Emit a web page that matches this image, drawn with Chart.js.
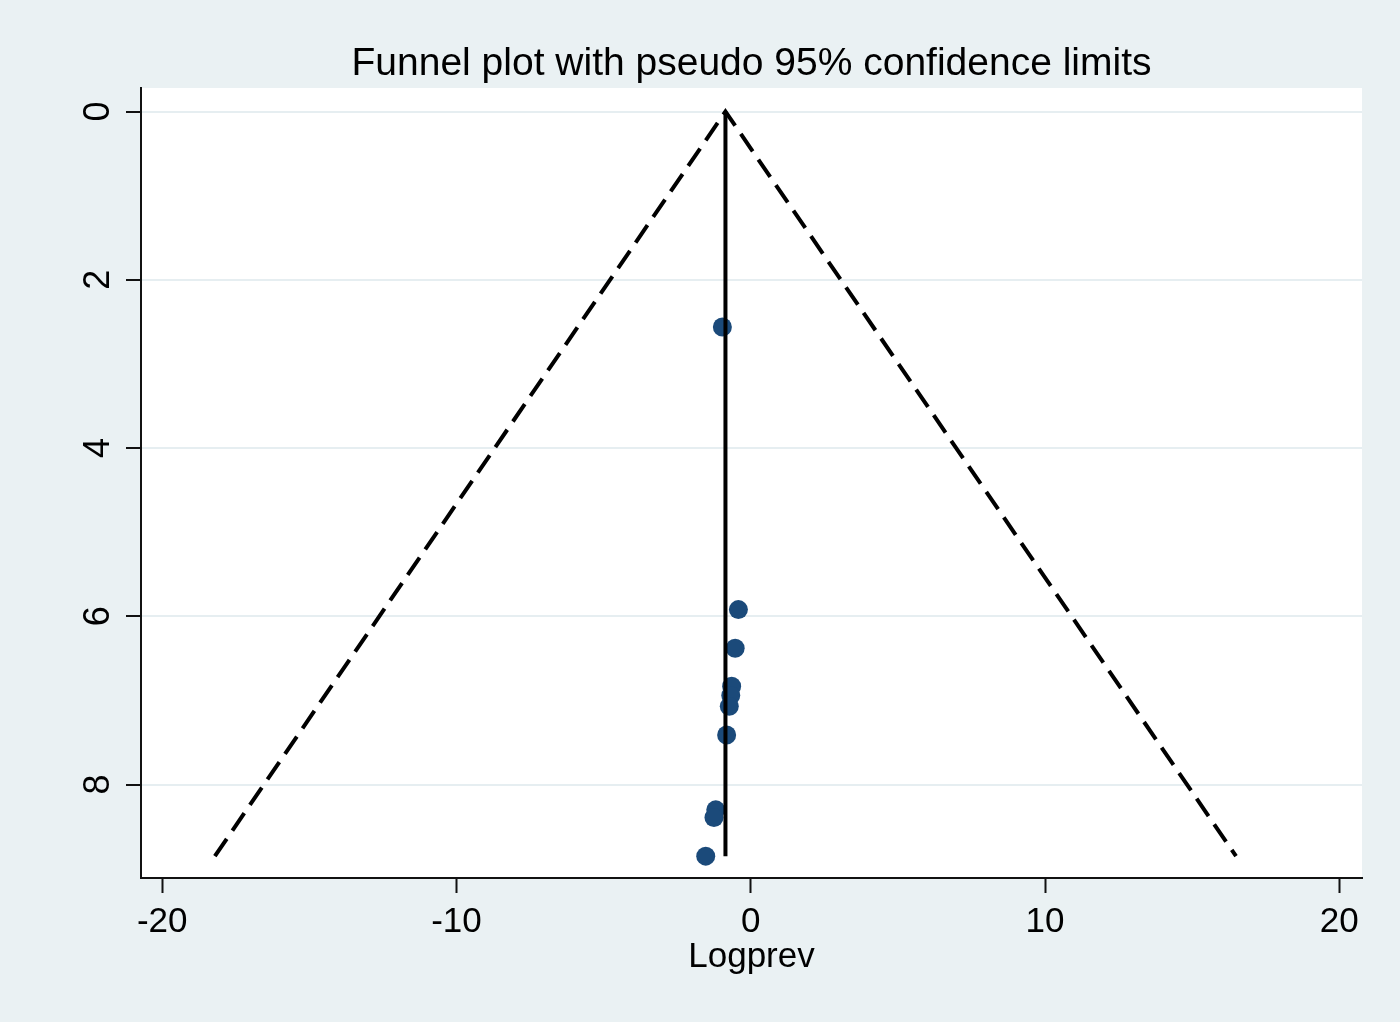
<!DOCTYPE html>
<html>
<head>
<meta charset="utf-8">
<title>Funnel plot</title>
<script src="https://cdn.jsdelivr.net/npm/chart.js@4.4.1/dist/chart.umd.min.js"></script>
<style>
  html, body { margin: 0; padding: 0; background: #eaf1f3; }
  canvas { display: block; }
</style>
</head>
<body>
<canvas id="funnel" width="1400" height="1022"></canvas>
<script>
// valores (Logprev x erro padrão)
const logprev = [-0.965, -0.42, -0.53, -0.65, -0.68, -0.73, -0.82, -1.19, -1.25, -1.53];
const stdErr  = [2.56, 5.92, 6.38, 6.83, 6.94, 7.07, 7.41, 8.30, 8.39, 8.85];

// estimativa combinada (linha vertical)
const pooledX = [-0.86, -0.86];
const pooledY = [0, 8.85];

// limites de 95% (linhas tracejadas)
const limitX = [-18.21, -0.86, 16.49];
const limitY = [8.85, 0, 8.85];

const xTicks = [-20, -10, 0, 10, 20];
const yTicks = [0, 2, 4, 6, 8];

const pair = (xs, ys) => xs.map((x, i) => ({ x: x, y: ys[i] }));

const font = 'Liberation Sans, Arial, sans-serif';
const bg = '#eaf1f3';

// fundo cinza-azulado e área do gráfico branca
const background = {
  id: 'background',
  beforeDraw(chart) {
    const { ctx, chartArea: a } = chart;
    ctx.save();
    ctx.fillStyle = bg;
    ctx.fillRect(0, 0, chart.width, chart.height);
    ctx.fillStyle = '#ffffff';
    ctx.fillRect(a.left, a.top, a.right - a.left, a.bottom - a.top);
    ctx.restore();
  }
};

new Chart(document.getElementById('funnel').getContext('2d'), {
  type: 'scatter',
  data: {
    datasets: [
      {
        label: 'pooled',
        data: pair(pooledX, pooledY),
        showLine: true,
        borderColor: '#000',
        borderWidth: 4,
        pointRadius: 0,
        tension: 0,
      },
      {
        label: 'limits',
        data: pair(limitX, limitY),
        showLine: true,
        borderColor: '#000',
        borderWidth: 4,
        borderDash: [21, 10],
        borderJoinStyle: 'miter',
        pointRadius: 0,
        tension: 0,
      },
      {
        label: 'studies',
        data: pair(logprev, stdErr),
        backgroundColor: '#1b4a7a',
        borderWidth: 0,
        pointRadius: 9.5,
      },
    ],
  },
  options: {
    responsive: false,
    animation: false,
    devicePixelRatio: 1,
    layout: { padding: { left: 0, right: 38, top: 0, bottom: 0 } },
    plugins: {
      legend: { display: false },
      tooltip: { enabled: false },
      title: {
        display: true,
        text: 'Funnel plot with pseudo 95% confidence limits',
        color: '#000',
        fullSize: false,
        font: { family: font, size: 39, weight: 'normal' },
        padding: { top: 41, bottom: 0.2 },
      },
    },
    scales: {
      x: {
        type: 'linear',
        min: -20.72,
        max: 20.77,
        afterBuildTicks: (s) => { s.ticks = xTicks.map(v => ({ value: v })); },
        afterFit: (s) => { s.height = 144; },
        grid: { drawOnChartArea: false, drawTicks: true, tickLength: 15, tickColor: '#111', tickWidth: 2 },
        border: { display: true, color: '#111', width: 2 },
        ticks: { color: '#000', padding: 8, maxRotation: 0, font: { family: font, size: 35 } },
        title: {
          display: true,
          text: 'Logprev',
          color: '#000',
          font: { family: font, size: 35 },
          padding: { top: 0, bottom: 44 },
        },
      },
      y: {
        type: 'linear',
        reverse: true,
        min: -0.28,
        max: 9.11,
        afterBuildTicks: (s) => { s.ticks = yTicks.map(v => ({ value: v })); },
        afterFit: (s) => { s.width = 141; },
        grid: { color: '#e6eef1', lineWidth: 2, drawTicks: true, tickLength: 15, tickColor: '#111', tickWidth: 2 },
        border: { display: true, color: '#111', width: 2 },
        ticks: {
          color: '#000',
          padding: 17,
          minRotation: 90,
          maxRotation: 90,
          crossAlign: 'center',
          font: { family: font, size: 36 },
        },
      },
    },
  },
  plugins: [background],
});
</script>
</body>
</html>
